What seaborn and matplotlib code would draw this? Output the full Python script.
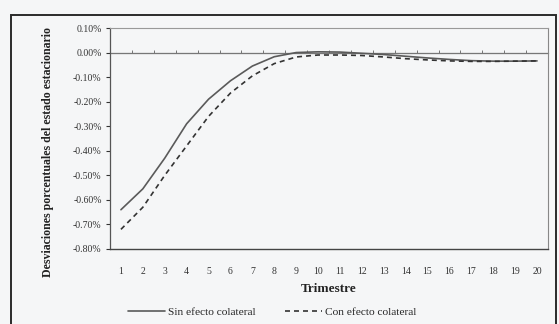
import numpy as np
import pandas as pd
import matplotlib
matplotlib.use("Agg")
import matplotlib.pyplot as plt
from matplotlib.ticker import FuncFormatter, FixedLocator
import seaborn as sns

# Respuesta (desviación % del estado estacionario) por trimestre
TRIMESTRES = list(range(1, 21))
SIN_EFECTO = [-0.64, -0.555, -0.43, -0.29, -0.19, -0.115, -0.055, -0.017, 0.0, 0.003,
              0.002, -0.003, -0.008, -0.015, -0.022, -0.028, -0.033, -0.035, -0.035, -0.034]
CON_EFECTO = [-0.72, -0.63, -0.50, -0.38, -0.26, -0.165, -0.095, -0.045, -0.018, -0.010,
              -0.010, -0.012, -0.018, -0.025, -0.030, -0.034, -0.036, -0.036, -0.035, -0.034]
SERIES = ["Sin efecto colateral", "Con efecto colateral"]
Y_TICKS = [0.10, 0.0, -0.10, -0.20, -0.30, -0.40, -0.50, -0.60, -0.70, -0.80]

df = pd.concat([
    pd.DataFrame({"Trimestre": TRIMESTRES, "valor": SIN_EFECTO, "serie": SERIES[0]}),
    pd.DataFrame({"Trimestre": TRIMESTRES, "valor": CON_EFECTO, "serie": SERIES[1]}),
])

sns.set_style("white")
plt.rcParams["font.family"] = ["Liberation Serif", "DejaVu Serif"]

W, H = 559, 324
fig = plt.figure(figsize=(W / 100, H / 100), dpi=100)
bg = "#f5f6f7"
fig.patch.set_facecolor(bg)

# outer chart frame
fig.add_artist(plt.Rectangle((11 / W, -0.05), (556 - 11) / W, 1.05 - 15 / H,
                             transform=fig.transFigure, fill=False,
                             edgecolor="#2a2a2a", lw=1.4))

ax = fig.add_axes([110 / W, 1 - 249 / H, 438 / W, 221 / H])
ax.set_facecolor(bg)

sns.lineplot(data=df, x="Trimestre", y="valor", hue="serie", style="serie",
             palette={SERIES[0]: "#5a5a5a", SERIES[1]: "#333333"},
             dashes={SERIES[0]: "", SERIES[1]: (3, 2.4)},
             linewidth=1.2, legend=False, ax=ax)

ax.set_xlim(0.5, 20.5)
ax.set_ylim(-0.80, 0.10)
ax.yaxis.set_major_locator(FixedLocator(Y_TICKS))
ax.yaxis.set_major_formatter(FuncFormatter(lambda v, p: f"{v:.2f}%" if abs(v) > 1e-9 else "0.00%"))
ax.set_xticks(TRIMESTRES)
ax.tick_params(axis="x", length=0, labelsize=7, pad=13, colors="#333333")
ax.tick_params(axis="y", length=3, width=0.8, direction="out", labelsize=7,
               colors="#333333", left=True, pad=3)

# zero line with category tick marks (Excel-style axis crossing at 0)
ax.axhline(0, color="#777777", lw=0.8, zorder=1)
sec = ax.secondary_xaxis(0.8 / 0.9)
sec.set_xticks([t + 0.5 for t in TRIMESTRES[:-1]])
sec.set_xticklabels([])
sec.tick_params(length=2.5, width=0.7, direction="out", colors="#777777")
sec.spines["bottom"].set_visible(False)

for side, col, lw in [("left", "#555555", 0.9), ("bottom", "#444444", 1.0),
                      ("top", "#999999", 0.8), ("right", "#888888", 0.8)]:
    ax.spines[side].set_visible(True)
    ax.spines[side].set_color(col)
    ax.spines[side].set_linewidth(lw)

ax.set_xlabel("Trimestre", fontsize=9.5, fontweight="bold", labelpad=5, color="#222222")
ax.set_ylabel("Desviaciones porcentuales del estado estacionario", fontsize=8.6,
              fontweight="bold", color="#222222")
ax.yaxis.set_label_coords(-0.128, 0.44)

handles = [plt.Line2D([], [], color="#5a5a5a", lw=1.2),
           plt.Line2D([], [], color="#333333", lw=1.2, dashes=(3, 2.4))]
fig.legend(handles, SERIES, loc="center", bbox_to_anchor=(0.4875, 0.037), ncol=2,
           frameon=False, fontsize=8.2, handlelength=3.2, columnspacing=2.6,
           handletextpad=0.3)

fig.savefig("out.png", dpi=100, facecolor=bg)
